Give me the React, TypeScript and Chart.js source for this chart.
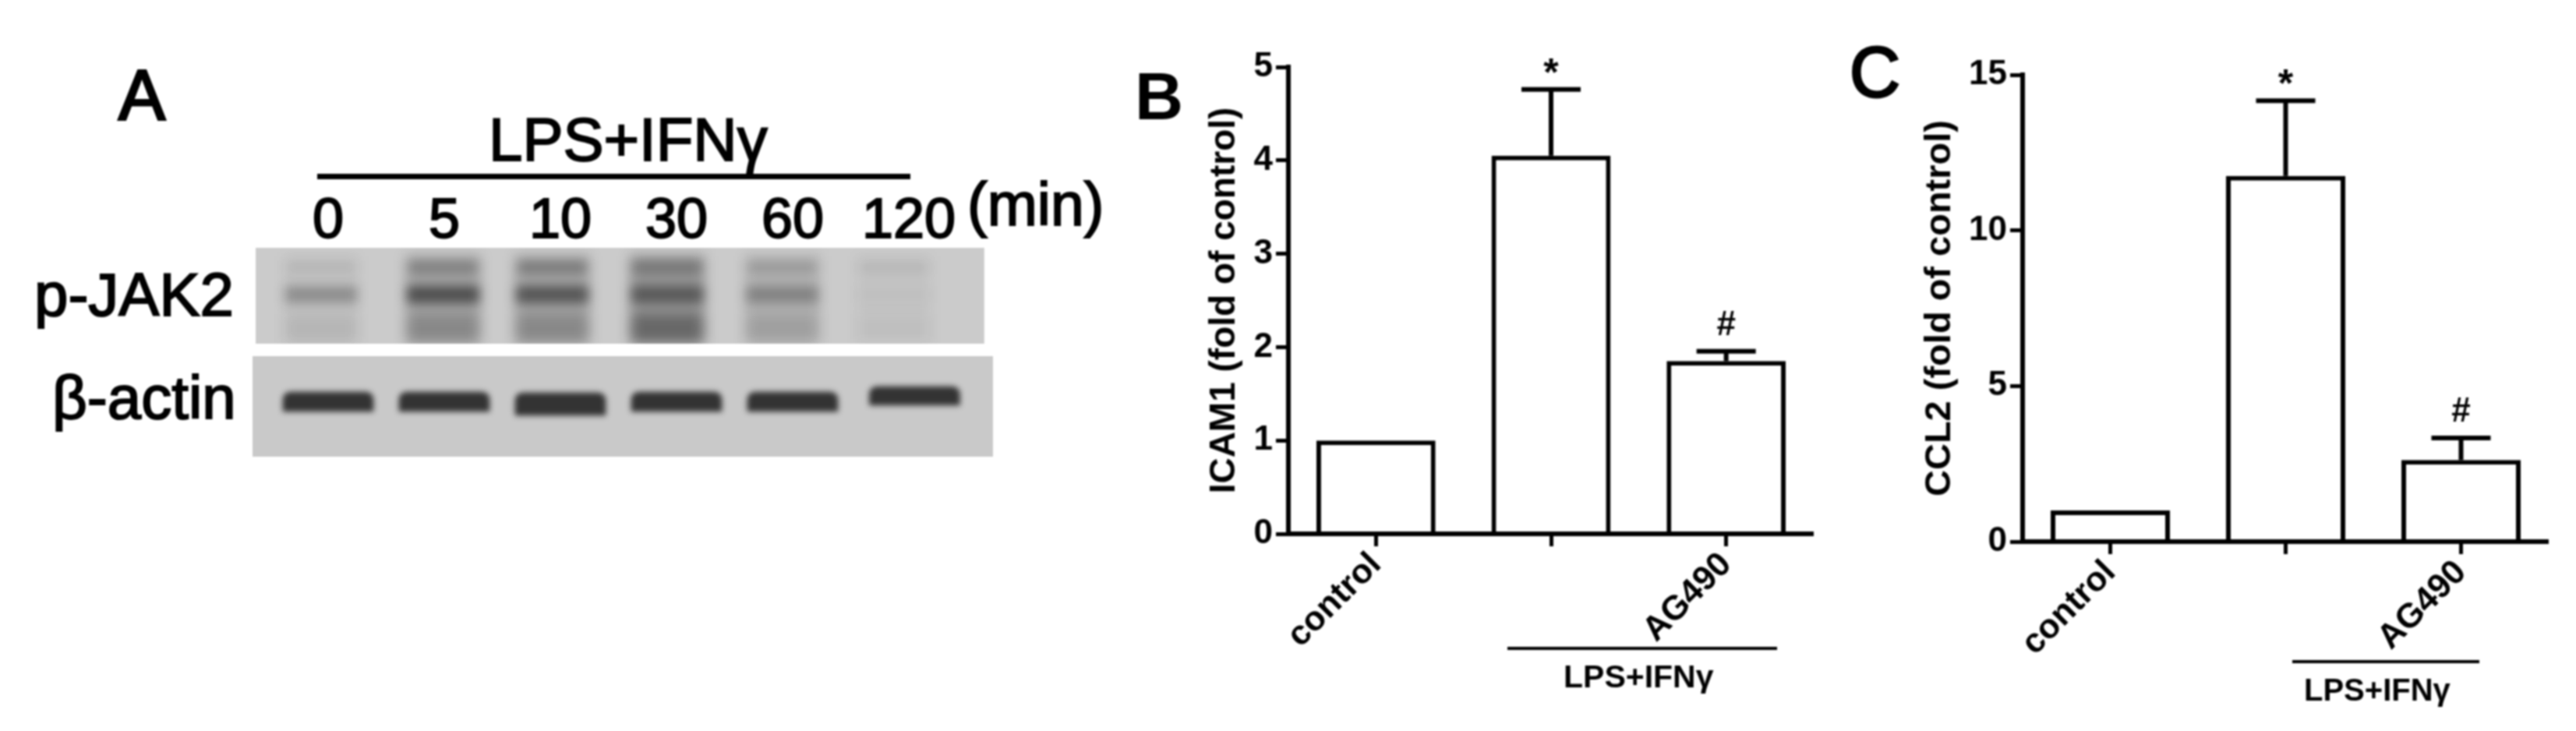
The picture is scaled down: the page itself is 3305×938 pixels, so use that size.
import React, { useEffect, useRef } from "react";
import { Chart, registerables } from "chart.js";

Chart.register(...registerables);

const FONT = '"Liberation Sans", Arial, sans-serif';

// Panel A: western blot
const timeLabels = ["0", "5", "10", "30", "60", "120"];
const jakLanes = [-0.06, 0.99, 1.93, 2.92, 3.91, 4.87];
const actinLanes = [0, 1, 2, 3, 4, 5.05];
const actinLow = [58, 58, 53, 58, 58, 66];
const actinHigh = [83, 83, 82, 83, 83, 90];
const jakMainAlpha = [0.3, 0.6, 0.55, 0.48, 0.3, 0.03];
const jakUpperAlpha = [0.08, 0.26, 0.3, 0.26, 0.16, 0.07];
const jakLowerAlpha = [0.08, 0.2, 0.2, 0.36, 0.12, 0.03];
const jakSmearAlpha = [0.04, 0.2, 0.2, 0.28, 0.12, 0.03];
const jakMainRow = [197, 219];
const jakUpperRow = [235, 251];
const jakLowerRow = [146, 183];
const jakSmearRow = [146, 258];
const jakPanelRow = [145, 268];
const actinPanelRow = [0, 129];

// Panel B
const categories = ["control", "", "AG490"];
const icamValues = [1, 4.05, 1.85];
const icamErrors = [null, 4.76, 1.955];
const icamMarks = [null, "*", "#"];
const icamTicks = { max: 5, step: 1 };

// Panel C
const ccl2Values = [1, 11.75, 2.62];
const ccl2Errors = [null, 14.17, 3.33];
const ccl2Marks = [null, "*", "#"];
const ccl2Ticks = { max: 15, step: 5 };

type Txt = { t: string; x: number; y: number; font: string; align?: CanvasTextAlign; stroke?: number };

function drawTexts(chart: any, list: Txt[], ox: number, oy: number) {
  const ctx = chart.ctx;
  ctx.save();
  ctx.fillStyle = "#000";
  ctx.strokeStyle = "#000";
  ctx.textBaseline = "alphabetic";
  for (const s of list) {
    ctx.font = s.font;
    ctx.textAlign = s.align || "left";
    ctx.fillText(s.t, s.x - ox, s.y - oy);
    if (s.stroke) {
      ctx.lineWidth = s.stroke;
      ctx.strokeText(s.t, s.x - ox, s.y - oy);
    }
  }
  ctx.restore();
}

const canvasStyle = (left: number, top: number): React.CSSProperties => ({
  position: "absolute",
  left,
  top,
  filter: "blur(0.9px)",
});

function Blot() {
  const ref = useRef<HTMLCanvasElement>(null);
  useEffect(() => {
    const band = (lanes: number[], row: number[], alphas: number[], thick: number, blur: number, panel: number[]) => ({
      data: lanes.map((x) => ({ x, y: row })),
      backgroundColor: alphas.map((a) => `rgba(20,20,20,${a})`),
      barThickness: thick,
      blur,
      panel,
    });
    const chart = new Chart(ref.current!, {
      type: "bar",
      data: {
        datasets: [
          {
            data: actinLanes.map((x, i) => ({ x, y: [actinLow[i], actinHigh[i]] })),
            backgroundColor: "rgba(38,38,38,0.92)",
            barThickness: 116,
            borderRadius: 10,
            blur: 3.5,
            panel: actinPanelRow,
          } as any,
          band(jakLanes, jakMainRow, jakMainAlpha, 92, 7, jakPanelRow) as any,
          band(jakLanes, jakUpperRow, jakUpperAlpha, 88, 7, jakPanelRow) as any,
          band(jakLanes, jakLowerRow, jakLowerAlpha, 90, 8, jakPanelRow) as any,
          band(jakLanes, jakSmearRow, jakSmearAlpha, 96, 8, jakPanelRow) as any,
        ],
      },
      options: {
        animation: false,
        responsive: false,
        layout: { autoPadding: false, padding: { left: 324, right: 166, top: 208, bottom: 54 } },
        plugins: { legend: { display: false }, tooltip: { enabled: false } },
        datasets: { bar: { grouped: false } },
        scales: {
          x: {
            type: "linear",
            position: "top",
            offset: false,
            min: -0.651,
            max: 5.725,
            grid: { display: false, drawTicks: false },
            border: { display: false },
            afterFit: (s: any) => { s.height = 110; },
            ticks: {
              stepSize: 1,
              includeBounds: false,
              autoSkip: false,
              maxRotation: 0,
              padding: -10,
              color: "#000",
              textStrokeColor: "#000",
              textStrokeWidth: 2,
              font: { family: FONT, size: 72 },
              callback: (v: any) => timeLabels[v] ?? "",
            },
          },
          y: { display: false, min: 0, max: 268 },
        },
      } as any,
      plugins: [
        {
          id: "blot",
          beforeDatasetsDraw(c: any) {
            const { ctx, scales } = c;
            const px = (r: number[], fill: string, x0: number, x1: number) => {
              ctx.fillStyle = fill;
              const t = scales.y.getPixelForValue(r[1]);
              const b = scales.y.getPixelForValue(r[0]);
              const l = scales.x.getPixelForValue(x0);
              ctx.fillRect(l, t, scales.x.getPixelForValue(x1) - l, b - t);
            };
            px(jakPanelRow, "#cbcbcb", -0.624, 5.65);
            px(actinPanelRow, "#c9c9c9", -0.651, 5.725);
          },
          beforeDatasetDraw(c: any, args: any) {
            const ds = c.data.datasets[args.index];
            const { ctx, scales, chartArea } = c;
            ctx.save();
            const t = scales.y.getPixelForValue(ds.panel[1]);
            const b = scales.y.getPixelForValue(ds.panel[0]);
            ctx.beginPath();
            ctx.rect(chartArea.left, t, chartArea.width, b - t);
            ctx.clip();
            ctx.filter = `blur(${ds.blur}px)`;
          },
          afterDatasetDraw(c: any) {
            c.ctx.restore();
          },
          afterDraw(c: any) {
            const ctx = c.ctx;
            ctx.fillStyle = "#000";
            ctx.fillRect(407, 223, 761, 7);
            drawTexts(c, [
              { t: "A", x: 152, y: 153, font: `90px ${FONT}`, stroke: 3 },
              { t: "LPS+IFNγ", x: 627, y: 206, font: `78px ${FONT}`, stroke: 2 },
              { t: "(min)", x: 1241, y: 289, font: `77px ${FONT}`, stroke: 2 },
              { t: "p-JAK2", x: 44, y: 405, font: `78px ${FONT}`, stroke: 2 },
              { t: "β-actin", x: 67, y: 537, font: `78px ${FONT}`, stroke: 2 },
            ], 0, 0);
          },
        },
      ],
    });
    return () => chart.destroy();
  }, []);
  return <canvas ref={ref} width={1440} height={640} style={canvasStyle(0, 0)} />;
}

type PanelProps = {
  left: number; top: number; width: number; height: number;
  padTop: number; axisW: number; axisH: number; titlePad: number; titleSize: number;
  title: string; values: number[]; errors: (number | null)[]; marks: (string | null)[];
  yTicks: { max: number; step: number }; texts: Txt[];
  rule: number[];
};

function Panel(p: PanelProps) {
  const ref = useRef<HTMLCanvasElement>(null);
  useEffect(() => {
    const LW = 6;
    const chart = new Chart(ref.current!, {
      type: "bar",
      data: {
        labels: categories,
        datasets: [
          {
            data: p.values,
            backgroundColor: "#fff",
            borderColor: "#000",
            borderWidth: LW,
            categoryPercentage: 1,
            barPercentage: 0.68,
          },
        ],
      },
      options: {
        animation: false,
        responsive: false,
        layout: { autoPadding: false, padding: { top: p.padTop, left: 0, right: 0, bottom: 0 } },
        plugins: { legend: { display: false }, tooltip: { enabled: false } },
        scales: {
          x: {
            type: "category",
            afterFit: (s: any) => { s.height = p.axisH; },
            border: { display: true, color: "#000", width: LW, z: 1 },
            grid: { offset: false, drawOnChartArea: false, drawTicks: true, tickLength: 16, tickWidth: LW - 1, tickColor: "#000" },
            ticks: {
              color: "#000",
              minRotation: 45,
              maxRotation: 45,
              autoSkip: false,
              padding: -2,
              font: { family: FONT, size: 44, weight: "bold" },
            },
          },
          y: {
            min: 0,
            max: p.yTicks.max,
            afterFit: (s: any) => { s.width = p.axisW; },
            border: { display: true, color: "#000", width: LW },
            grid: { drawOnChartArea: false, drawTicks: true, tickLength: 16, tickWidth: LW - 1, tickColor: "#000" },
            title: {
              display: true,
              text: p.title,
              color: "#000",
              padding: { top: p.titlePad, bottom: 0 },
              font: { family: FONT, size: p.titleSize, weight: "bold" },
            },
            ticks: {
              color: "#000",
              stepSize: p.yTicks.step,
              padding: 4,
              font: { family: FONT, size: 44, weight: "bold" },
            },
          },
        },
      } as any,
      plugins: [
        {
          id: "errorsAndNotes",
          afterDatasetsDraw(c: any) {
            const { ctx, scales } = c;
            ctx.save();
            ctx.strokeStyle = "#000";
            ctx.lineWidth = LW;
            p.errors.forEach((e, i) => {
              if (e == null) return;
              const x = scales.x.getPixelForValue(i);
              const top = scales.y.getPixelForValue(e);
              const base = scales.y.getPixelForValue(p.values[i]);
              ctx.beginPath();
              ctx.moveTo(x, base);
              ctx.lineTo(x, top);
              ctx.moveTo(x - 38, top);
              ctx.lineTo(x + 38, top);
              ctx.stroke();
              const m = p.marks[i];
              if (m) {
                ctx.fillStyle = "#000";
                ctx.textAlign = "center";
                ctx.textBaseline = "alphabetic";
                ctx.font = m === "*" ? `bold 50px ${FONT}` : `bold 44px ${FONT}`;
                ctx.fillText(m, x, top + (m === "*" ? -5 : -21));
              }
            });
            ctx.restore();
          },
          afterDraw(c: any) {
            const ctx = c.ctx;
            ctx.fillStyle = "#000";
            ctx.fillRect(p.rule[0] - p.left, p.rule[2] - 2 - p.top, p.rule[1] - p.rule[0], 4);
            drawTexts(c, p.texts, p.left, p.top);
          },
        },
      ],
    });
    return () => chart.destroy();
  }, []);
  return <canvas ref={ref} width={p.width} height={p.height} style={canvasStyle(p.left, p.top)} />;
}

export default function App() {
  return (
    <div style={{ position: "absolute", left: 0, top: 0, width: 3305, height: 938, background: "#fff", overflow: "hidden" }}>
      <Blot />
      <Panel
        left={1440} top={30} width={887} height={880}
        padTop={56} axisW={213} axisH={225} titlePad={104} titleSize={46}
        title="ICAM1 (fold of control)"
        values={icamValues} errors={icamErrors} marks={icamMarks} yTicks={icamTicks}
        rule={[1934, 2280, 832]}
        texts={[
          { t: "B", x: 1456, y: 153, font: `bold 86px ${FONT}` },
          { t: "LPS+IFNγ", x: 2006, y: 882, font: `bold 41px ${FONT}` },
        ]}
      />
      <Panel
        left={2340} top={30} width={930} height={880}
        padTop={66} axisW={255} axisH={215} titlePad={121} titleSize={47}
        title="CCL2 (fold of control)"
        values={ccl2Values} errors={ccl2Errors} marks={ccl2Marks} yTicks={ccl2Ticks}
        rule={[2941, 3181, 849]}
        texts={[
          { t: "C", x: 2373, y: 124, font: `90px ${FONT}`, stroke: 3 },
          { t: "LPS+IFNγ", x: 2956, y: 899, font: `bold 40px ${FONT}` },
        ]}
      />
    </div>
  );
}
